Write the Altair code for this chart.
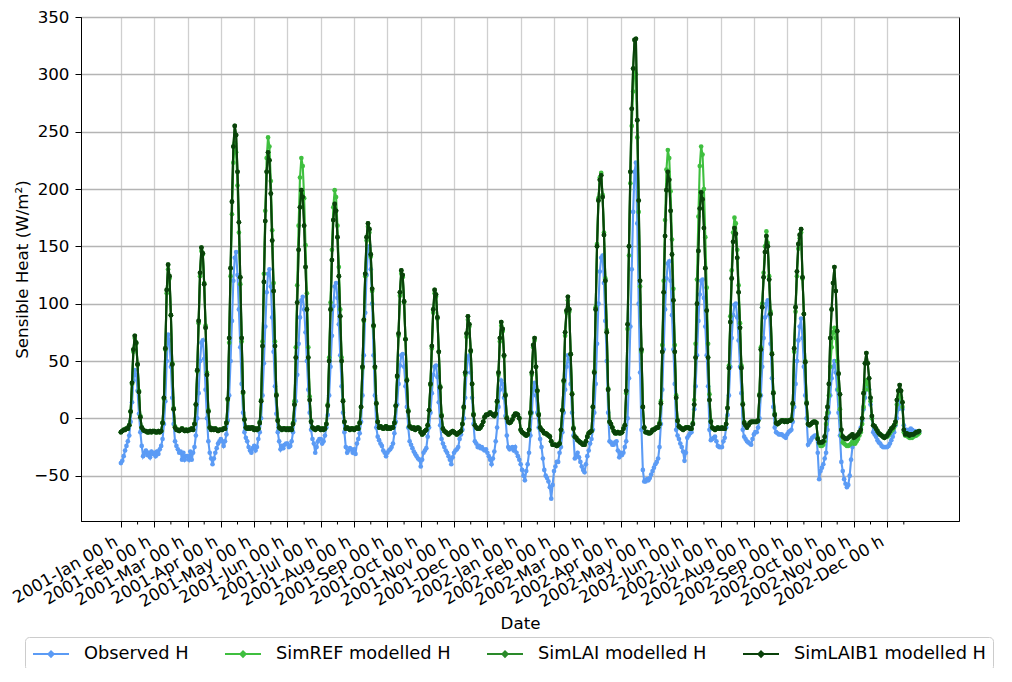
import json
import altair as alt
import pandas as pd

month_labels = ["2001-Jan 00 h", "2001-Feb 00 h", "2001-Mar 00 h", "2001-Apr 00 h",
                "2001-May 00 h", "2001-Jun 00 h", "2001-Jul 00 h", "2001-Aug 00 h",
                "2001-Sep 00 h", "2001-Oct 00 h", "2001-Nov 00 h", "2001-Dec 00 h",
                "2002-Jan 00 h", "2002-Feb 00 h", "2002-Mar 00 h", "2002-Apr 00 h",
                "2002-May 00 h", "2002-Jun 00 h", "2002-Jul 00 h", "2002-Aug 00 h",
                "2002-Sep 00 h", "2002-Oct 00 h", "2002-Nov 00 h", "2002-Dec 00 h"]
series_names = ["Observed H", "SimREF modelled H", "SimLAI modelled H", "SimLAIB1 modelled H"]
series_colors = ["#5b9bf5", "#3fbf3f", "#2a8a2a", "#0a420a"]
y_ticks = [-50, 0, 50, 100, 150, 200, 250, 300, 350]

# Monthly mean diurnal cycles (24 hourly values per month), W/m2
obs_h = [
    [-39,-37,-33,-28,-24,-20,-15,-3,14,33,42,38,24,4,-12,-24,-33,-30,-28,-32,-30,-34,-29,-31],
    [-30,-33,-29,-31,-27,-24,-18,-5,15,50,73,68,45,18,-5,-20,-24,-27,-30,-29,-36,-30,-36,-33],
    [-33,-36,-29,-36,-30,-25,-15,0,22,50,66,68,52,25,0,-20,-30,-35,-40,-35,-30,-26,-22,-20],
    [-18,-20,-24,-20,-14,-2,20,50,85,120,140,145,125,95,62,30,5,-12,-17,-20,-25,-28,-30,-26],
    [-24,-28,-25,-18,-12,0,20,48,80,110,126,130,115,88,58,28,4,-12,-20,-27,-24,-26,-23,-22],
    [-22,-25,-24,-20,-12,-2,15,38,65,88,103,106,95,75,50,25,5,-10,-18,-22,-30,-25,-20,-18],
    [-18,-22,-20,-15,-8,3,20,45,72,98,115,118,105,82,55,28,5,-12,-25,-30,-28,-26,-27,-30],
    [-27,-31,-22,-18,-13,-3,20,55,92,125,148,150,130,100,55,20,-8,-16,-19,-22,-24,-28,-30,-33],
    [-30,-28,-27,-25,-22,-13,-3,12,30,46,55,56,45,28,10,-8,-20,-23,-26,-29,-31,-33,-35,-36],
    [-42,-36,-30,-28,-26,-16,-8,5,22,38,45,46,36,14,-6,-18,-22,-25,-28,-30,-33,-36,-40,-34],
    [-30,-28,-27,-25,-18,-14,-10,0,18,40,53,55,40,18,-5,-20,-22,-25,-24,-26,-25,-27,-28,-27],
    [-30,-33,-36,-40,-35,-29,-20,-8,10,25,33,30,18,2,-15,-25,-27,-26,-25,-28,-25,-30,-33,-36],
    [-40,-45,-50,-54,-46,-40,-30,-15,5,25,31,20,5,-8,-18,-25,-35,-45,-50,-52,-55,-60,-70,-58],
    [-46,-42,-38,-38,-30,-25,-12,5,25,45,55,50,30,5,-15,-35,-32,-30,-34,-38,-42,-45,-47,-40],
    [-33,-28,-22,-18,-10,5,30,65,100,128,140,142,118,85,50,5,-20,-21,-23,-23,-21,-20,-28,-34],
    [-30,-32,-30,-25,-20,0,35,80,130,180,215,223,170,100,40,-10,-45,-55,-55,-53,-54,-52,-49,-46],
    [-43,-40,-38,-35,-25,-5,25,60,95,122,135,137,120,90,60,30,-10,-15,-18,-22,-25,-29,-37,-30],
    [-17,-15,-13,-12,-5,8,28,55,85,108,120,121,105,80,55,28,-10,-19,-18,-17,-16,-20,-24,-25],
    [-25,-25,-20,-17,-8,3,20,45,70,90,99,100,88,68,45,22,-10,-16,-18,-20,-21,-22,-23,-18],
    [-14,-12,-12,-8,0,20,45,70,88,100,103,90,65,35,10,-8,-12,-13,-14,-14,-14,-15,-16,-17],
    [-14,-12,-11,-10,-3,10,30,50,68,80,87,70,45,20,0,-23,-21,-19,-17,-16,-15,-15,-30,-53],
    [-46,-43,-40,-35,-30,-10,5,20,35,45,50,40,25,5,-15,-38,-46,-53,-57,-60,-58,-50,-36,-25],
    [-20,-18,-17,-15,-12,-8,-2,8,18,28,31,25,12,0,-12,-14,-16,-19,-21,-22,-24,-25,-25,-25],
    [-25,-24,-22,-19,-16,-12,-6,0,8,13,15,8,-6,-10,-10,-11,-10,-9,-10,-11,-11,-12,-12,-12],
]

ref_h = [
    [-12,-11,-10,-10,-9,-9,-6,6,30,58,70,65,47,24,2,-8,-10,-11,-11,-12,-12,-11,-12,-11],
    [-11,-12,-12,-11,-12,-11,-4,17,60,109,130,122,90,48,9,-7,-10,-10,-11,-10,-9,-10,-11,-10],
    [-11,-10,-10,-9,-10,-5,12,41,83,124,146,143,118,81,40,7,-8,-10,-9,-10,-9,-10,-11,-10],
    [-10,-10,-9,-9,-4,16,66,124,178,223,240,232,203,162,117,67,22,-1,-8,-9,-8,-9,-8,-8],
    [-10,-9,-10,-9,-3,16,67,126,181,227,245,237,207,164,118,67,21,-1,-8,-9,-10,-9,-9,-10],
    [-9,-10,-9,-10,-4,15,62,116,168,210,227,220,192,151,109,62,19,-2,-8,-9,-10,-9,-8,-9],
    [-10,-9,-10,-9,-5,12,53,101,147,184,199,193,168,132,95,53,16,-3,-9,-8,-9,-10,-9,-9],
    [-10,-9,-8,-9,-4,10,44,85,124,155,167,162,141,111,80,44,13,-3,-8,-7,-8,-9,-8,-7],
    [-9,-8,-9,-8,-8,-4,11,36,72,107,126,123,101,69,34,7,-7,-8,-9,-8,-10,-9,-8,-9],
    [-12,-14,-13,-11,-10,-6,7,29,61,92,109,106,87,58,28,3,-9,-11,-12,-13,-14,-13,-12,-11],
    [-12,-13,-14,-13,-12,-11,-5,9,38,71,86,80,58,30,4,-6,-8,-9,-9,-8,-6,-3,1,3],
    [3,4,5,4,3,2,4,14,38,67,81,76,54,21,1,-3,-4,-3,-1,2,4,4,3,0],
    [-10,-12,-13,-14,-15,-14,-10,4,38,62,68,45,24,4,-8,-10,-11,-13,-13,-14,-15,-16,-20,-23],
    [-23,-23,-24,-23,-22,-10,7,32,72,92,103,93,56,22,-8,-16,-17,-19,-20,-21,-22,-23,-23,-20],
    [-16,-13,-12,-11,10,41,97,152,192,210,214,195,162,122,77,26,-3,-5,-8,-11,-13,-13,-12,-13],
    [-13,-12,-9,-6,22,78,142,205,255,285,305,300,245,180,115,58,10,-8,-12,-12,-13,-13,-12,-10],
    [-10,-9,-8,-8,-4,15,64,120,173,217,234,227,198,156,113,64,20,-2,-7,-8,-9,-10,-9,-8],
    [-8,-8,-9,-9,-4,16,65,121,176,220,237,230,200,158,114,65,21,-2,-8,-9,-10,-9,-8,-9],
    [-9,-8,-9,-9,-5,9,46,89,129,162,175,170,147,116,83,46,13,-3,-6,-8,-6,-4,-3,-3],
    [-3,-3,-3,-2,21,62,100,127,150,163,153,124,93,57,23,4,-4,-5,-4,-3,-2,-2,-3,-2],
    [-3,-2,-2,-1,12,58,93,124,148,157,162,122,91,50,14,-5,-6,-5,-4,-3,-3,-4,-17,-22],
    [-24,-24,-23,-20,-5,5,20,45,62,75,79,70,50,25,8,-15,-21,-22,-23,-24,-24,-23,-22,-20],
    [-22,-22,-20,-18,-15,-12,-5,10,25,33,30,25,15,0,-6,-7,-9,-11,-13,-14,-15,-16,-17,-16],
    [-16,-15,-13,-11,-10,-8,-5,12,18,22,18,10,-12,-15,-15,-16,-17,-17,-17,-16,-15,-15,-14,-13],
]

lai_h = [
    [-12,-11,-10,-10,-9,-9,-6,6,31,60,72,66,47,23,1,-8,-10,-11,-11,-12,-12,-11,-12,-11],
    [-11,-12,-12,-11,-12,-11,-4,18,61,112,134,124,90,47,8,-8,-10,-10,-11,-10,-9,-10,-11,-10],
    [-11,-10,-10,-9,-10,-5,12,42,85,127,149,144,117,79,38,6,-8,-10,-9,-10,-9,-10,-11,-10],
    [-10,-10,-9,-9,-4,17,70,131,189,237,255,247,215,171,123,70,23,-1,-8,-9,-8,-9,-8,-8],
    [-10,-9,-10,-9,-4,15,63,119,172,215,232,225,196,155,111,63,20,-2,-8,-9,-10,-9,-9,-10],
    [-9,-10,-9,-10,-5,12,53,101,147,184,199,193,168,132,95,53,16,-3,-8,-9,-10,-9,-8,-9],
    [-10,-9,-10,-9,-5,11,50,95,138,173,187,181,158,124,89,50,15,-3,-9,-8,-9,-10,-9,-9],
    [-10,-9,-8,-9,-4,10,45,86,126,158,170,165,143,113,81,45,13,-3,-8,-7,-8,-9,-8,-7],
    [-9,-8,-9,-8,-8,-4,11,37,74,110,129,125,102,69,33,6,-7,-8,-9,-8,-10,-9,-8,-9],
    [-12,-14,-13,-11,-10,-6,7,30,63,95,112,108,88,58,27,2,-9,-11,-12,-13,-14,-13,-12,-11],
    [-12,-13,-14,-13,-12,-11,-5,10,40,74,89,82,59,30,3,-6,-8,-9,-9,-8,-6,-3,1,3],
    [3,4,5,4,3,2,4,15,40,70,84,78,55,20,0,-3,-4,-3,-1,2,4,4,3,0],
    [-10,-12,-13,-14,-15,-14,-10,5,40,64,70,45,24,3,-8,-10,-11,-13,-13,-14,-15,-16,-20,-23],
    [-23,-23,-24,-23,-22,-10,7,33,75,94,106,95,56,21,-9,-16,-17,-19,-20,-21,-22,-23,-23,-20],
    [-16,-13,-12,-11,10,40,95,150,190,208,212,193,160,120,75,25,-3,-5,-8,-11,-13,-13,-12,-13],
    [-13,-12,-9,-6,24,82,150,215,270,305,330,331,260,190,120,60,10,-8,-12,-12,-13,-13,-12,-10],
    [-10,-9,-8,-8,-5,13,58,110,159,199,215,208,181,143,103,58,18,-2,-7,-8,-9,-10,-9,-8],
    [-8,-8,-9,-9,-5,12,53,100,146,183,197,191,166,131,94,53,16,-3,-8,-9,-10,-9,-8,-9],
    [-9,-8,-9,-9,-5,9,44,84,122,154,166,161,140,110,79,44,12,-4,-6,-8,-6,-4,-3,-3],
    [-3,-3,-3,-2,20,60,97,123,145,159,150,121,91,56,22,3,-4,-5,-4,-3,-2,-2,-3,-2],
    [-3,-2,-2,-1,13,61,97,128,152,160,165,123,91,49,13,-5,-6,-5,-4,-3,-3,-4,-18,-21],
    [-21,-21,-20,-16,0,10,30,70,95,118,132,111,76,39,21,-10,-16,-17,-18,-18,-17,-16,-15,-14],
    [-17,-16,-15,-14,-12,-10,0,22,48,57,48,35,18,2,-6,-7,-9,-11,-13,-14,-15,-16,-17,-16],
    [-15,-13,-11,-9,-8,-6,-3,16,24,29,24,14,-10,-14,-13,-14,-15,-14,-14,-14,-13,-12,-12,-11],
]

laib1_h = [
    [-12,-11,-10,-10,-9,-9,-6,6,31,60,72,66,47,23,1,-8,-10,-11,-11,-12,-12,-11,-12,-11],
    [-11,-12,-12,-11,-12,-11,-4,18,61,112,134,124,90,47,8,-8,-10,-10,-11,-10,-9,-10,-11,-10],
    [-11,-10,-10,-9,-10,-5,12,42,85,127,149,144,117,79,38,6,-8,-10,-9,-10,-9,-10,-11,-10],
    [-10,-10,-9,-9,-4,17,70,131,189,237,255,247,215,171,123,70,23,-1,-8,-9,-8,-9,-8,-8],
    [-10,-9,-10,-9,-4,15,63,119,172,215,232,225,196,155,111,63,20,-2,-8,-9,-10,-9,-9,-10],
    [-9,-10,-9,-10,-5,12,53,101,147,184,199,193,168,132,95,53,16,-3,-8,-9,-10,-9,-8,-9],
    [-10,-9,-10,-9,-5,11,50,95,138,173,187,181,158,124,89,50,15,-3,-9,-8,-9,-10,-9,-9],
    [-10,-9,-8,-9,-4,10,45,86,126,158,170,165,143,113,81,45,13,-3,-8,-7,-8,-9,-8,-7],
    [-9,-8,-9,-8,-8,-4,11,37,74,110,129,125,102,69,33,6,-7,-8,-9,-8,-10,-9,-8,-9],
    [-12,-14,-13,-11,-10,-6,7,30,63,95,112,108,88,58,27,2,-9,-11,-12,-13,-14,-13,-12,-11],
    [-12,-13,-14,-13,-12,-11,-5,10,40,74,89,82,59,30,3,-6,-8,-9,-9,-8,-6,-3,1,3],
    [3,4,5,4,3,2,4,15,40,70,84,78,55,20,0,-3,-4,-3,-1,2,4,4,3,0],
    [-10,-12,-13,-14,-15,-14,-10,5,40,64,70,45,24,3,-8,-10,-11,-13,-13,-14,-15,-16,-20,-23],
    [-23,-23,-24,-23,-22,-10,7,33,75,94,106,95,56,21,-9,-16,-17,-19,-20,-21,-22,-23,-23,-20],
    [-16,-13,-12,-11,10,40,95,150,190,208,212,193,160,120,75,25,-3,-5,-8,-11,-13,-13,-12,-13],
    [-13,-12,-9,-6,24,82,150,215,270,305,330,331,260,190,120,60,10,-8,-12,-12,-13,-13,-12,-10],
    [-10,-9,-8,-8,-5,13,58,110,159,199,215,208,181,143,103,58,18,-2,-7,-8,-9,-10,-9,-8],
    [-8,-8,-9,-9,-5,12,53,100,146,183,197,191,166,131,94,53,16,-3,-8,-9,-10,-9,-8,-9],
    [-9,-8,-9,-9,-5,9,44,84,122,154,166,161,140,110,79,44,12,-4,-6,-8,-6,-4,-3,-3],
    [-3,-3,-3,-2,20,60,97,123,145,159,150,121,91,56,22,3,-4,-5,-4,-3,-2,-2,-3,-2],
    [-3,-2,-2,-1,13,61,97,128,152,160,165,123,91,49,13,-5,-6,-5,-4,-3,-3,-4,-18,-21],
    [-21,-21,-20,-16,0,10,30,70,95,118,132,111,76,39,21,-10,-16,-17,-18,-18,-17,-16,-15,-14],
    [-17,-16,-15,-14,-12,-10,0,22,48,57,48,35,18,2,-6,-7,-9,-11,-13,-14,-15,-16,-17,-16],
    [-15,-13,-11,-9,-8,-6,-3,16,24,29,24,14,-10,-14,-13,-14,-15,-14,-14,-14,-13,-12,-12,-11],
]

HOURS = 24
major_ticks = [HOURS * k for k in range(len(month_labels))]
minor_ticks = [HOURS * k + HOURS // 2 for k in range(len(month_labels))]


def series_frame(name, months):
    rows = []
    for m, row in enumerate(months):
        for h, v in enumerate(row):
            rows.append({"series": name, "idx": m * HOURS + h, "value": v})
    return pd.DataFrame(rows)


FONT = "DejaVu Sans"
FS = 16.7
PLOT_W, PLOT_H = 878, 504

color_scale = alt.Scale(domain=series_names, range=series_colors)
legend_symbol = "M-1,0H3M0.7,0L1,-0.3L1.3,0L1,0.3Z"
legend = alt.Legend(
    title=None, orient="none", legendX=-56, legendY=620, direction="horizontal",
    columns=4, columnPadding=32, symbolType=legend_symbol, symbolSize=324,
    symbolStrokeWidth=2, symbolOpacity=1, labelOffset=32, labelFontSize=17.8,
    labelFont=FONT, labelColor="black", labelLimit=400, padding=7,
    strokeColor="#cccccc", fillColor="white", cornerRadius=4,
)

label_expr = "{}[round(datum.value / {})]".format(json.dumps(month_labels), HOURS)

x_enc = alt.X(
    "idx:Q",
    scale=alt.Scale(domain=[-28.75, 603.75], nice=False, zero=False),
    axis=alt.Axis(
        values=major_ticks, tickCount=40, labelExpr=label_expr, labelAngle=330,
        labelAlign="right", labelBaseline="top", labelOffset=-9, labelOverlap=False,
        labelFlush=False, labelBound=False, labelFontSize=FS, tickSize=6,
        labelPadding=6, grid=True, gridColor="#cfcfcf", gridWidth=1.3, title="Date",
        titleFontSize=FS, titleX=439, titleY=102, titleAlign="center",
        titleBaseline="middle",
    ),
)
y_enc = alt.Y(
    "value:Q",
    scale=alt.Scale(domain=[-89.5, 350], nice=False, zero=False),
    axis=alt.Axis(
        values=y_ticks, tickCount=20, format="d", labelFontSize=FS, tickSize=6,
        labelPadding=6, grid=True, gridColor="#b4b4b4", gridWidth=1.3,
        title="Sensible Heat (W/m²)", titleFontSize=FS, titleAngle=270,
        titleX=-59, titleY=252, titleAlign="center", titleBaseline="middle",
    ),
)

layers = []
for name, months in zip(series_names, [obs_h, ref_h, lai_h, laib1_h]):
    base = alt.Chart(series_frame(name, months)).encode(
        x=x_enc, y=y_enc,
        color=alt.Color("series:N", scale=color_scale, legend=legend),
    )
    layers.append(base.mark_line(strokeWidth=2.1))
    layers.append(base.mark_circle(size=22, opacity=1))

minor = alt.Chart(pd.DataFrame({"idx": minor_ticks})).mark_rule(
    color="black", strokeWidth=1
).encode(x="idx:Q", y=alt.value(PLOT_H), y2=alt.value(PLOT_H + 3.5))
layers.append(minor)

chart = alt.layer(*layers).properties(
    width=PLOT_W, height=PLOT_H,
    autosize=alt.AutoSizeParams(type="none"),
    padding={"left": 73, "top": 9, "right": 45, "bottom": 147},
).configure_view(
    stroke="black", strokeWidth=1
).configure_axis(
    domainColor="black", tickColor="black", labelColor="black", titleColor="black",
    labelFont=FONT, titleFont=FONT, titleFontWeight="normal", domainWidth=1,
)

chart.save("out.html", embed_options={"renderer": "svg", "actions": False})
